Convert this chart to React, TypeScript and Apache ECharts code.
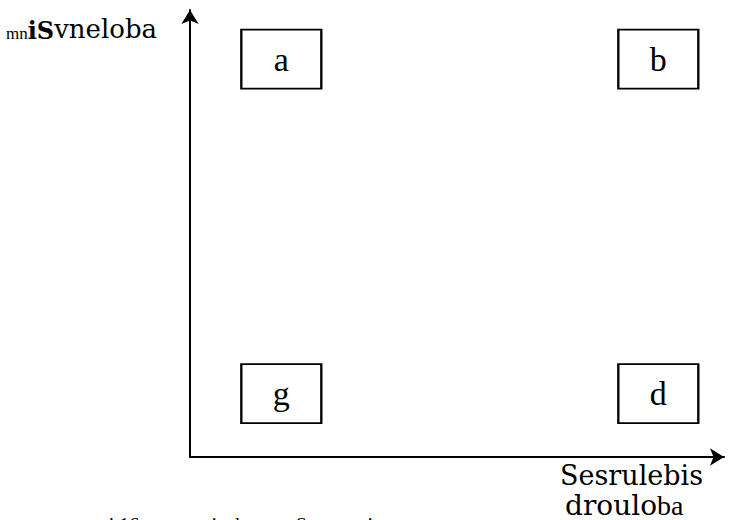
import React, { useEffect, useRef } from "react";
import * as echarts from "echarts";

const boxLabels = ["a", "b", "g", "d"];
const xValues = [17.1, 87.7, 17.1, 87.7];
const yValues = [89.0, 89.0, 14.2, 14.2];
const yAxisTitle = ["mn", "iS", "vneloba"];
const xAxisTitle1 = "Sesrulebis";
const xAxisTitle2 = ["droulo", "ba"];
const caption = "naxazi 16. amocanis da samuSao matrica";

const TIMES = "'Liberation Serif', 'Times New Roman', serif";
const WIDE = "'DejaVu Serif', serif";

export default function App() {
  const ref = useRef<HTMLDivElement>(null);
  useEffect(() => {
    if (!ref.current) return;
    const chart = echarts.init(ref.current, undefined, { renderer: "svg" });
    const axisCommon = {
      type: "value" as const,
      min: 0,
      max: 100,
      splitLine: { show: false },
      axisTick: { show: false },
      axisLabel: { show: false },
      axisLine: {
        show: true,
        onZero: false,
        symbol: ["none", "arrow"],
        symbolSize: [13, 14],
        lineStyle: { color: "#000", width: 2 },
      },
    };
    chart.setOption({
      animation: false,
      backgroundColor: "#fff",
      grid: { left: 190, right: 8, top: 10, bottom: 63 },
      xAxis: { ...axisCommon },
      yAxis: { ...axisCommon },
      series: [
        {
          type: "scatter",
          symbol: "rect",
          symbolSize: [80, 59],
          itemStyle: { color: "#fff", borderColor: "#000", borderWidth: 2, opacity: 1 },
          label: {
            show: true,
            position: "inside",
            formatter: (p: any) => p.name,
            fontFamily: TIMES,
            fontSize: 34,
            color: "#000",
          },
          emphasis: { disabled: true },
          data: boxLabels.map((n, i) => ({ name: n, value: [xValues[i], yValues[i]] })),
        },
      ],
      graphic: [
        {
          type: "text",
          left: 6,
          top: 16,
          style: {
            text: `{a|${yAxisTitle[0]}}{b|${yAxisTitle[1]}}{c|${yAxisTitle[2]}}`,
            fill: "#000",
            rich: {
              a: { fontFamily: TIMES, fontSize: 17, verticalAlign: "bottom" },
              b: { fontFamily: WIDE, fontWeight: "bold", fontSize: 24, verticalAlign: "bottom" },
              c: { fontFamily: WIDE, fontSize: 26, verticalAlign: "bottom" },
            },
          },
        },
        {
          type: "text",
          left: 560,
          top: 462,
          style: {
            text: xAxisTitle1,
            fill: "#000",
            fontFamily: WIDE,
            fontSize: 27,
          },
        },
        {
          type: "text",
          left: 565,
          top: 491,
          style: {
            text: `{a|${xAxisTitle2[0]}}{b|${xAxisTitle2[1]}}`,
            fill: "#000",
            rich: {
              a: { fontFamily: WIDE, fontSize: 28, lineHeight: 26, verticalAlign: "bottom" },
              b: { fontFamily: TIMES, fontSize: 28, lineHeight: 26, verticalAlign: "bottom" },
            },
          },
        },
        {
          type: "text",
          left: 62,
          top: 515,
          style: {
            text: caption,
            fill: "#000",
            fontFamily: TIMES,
            fontSize: 20,
          },
        },
      ],
    });
    return () => chart.dispose();
  }, []);
  return (
    <div
      ref={ref}
      style={{ position: "fixed", left: 0, top: 0, width: 732, height: 520 }}
    />
  );
}
